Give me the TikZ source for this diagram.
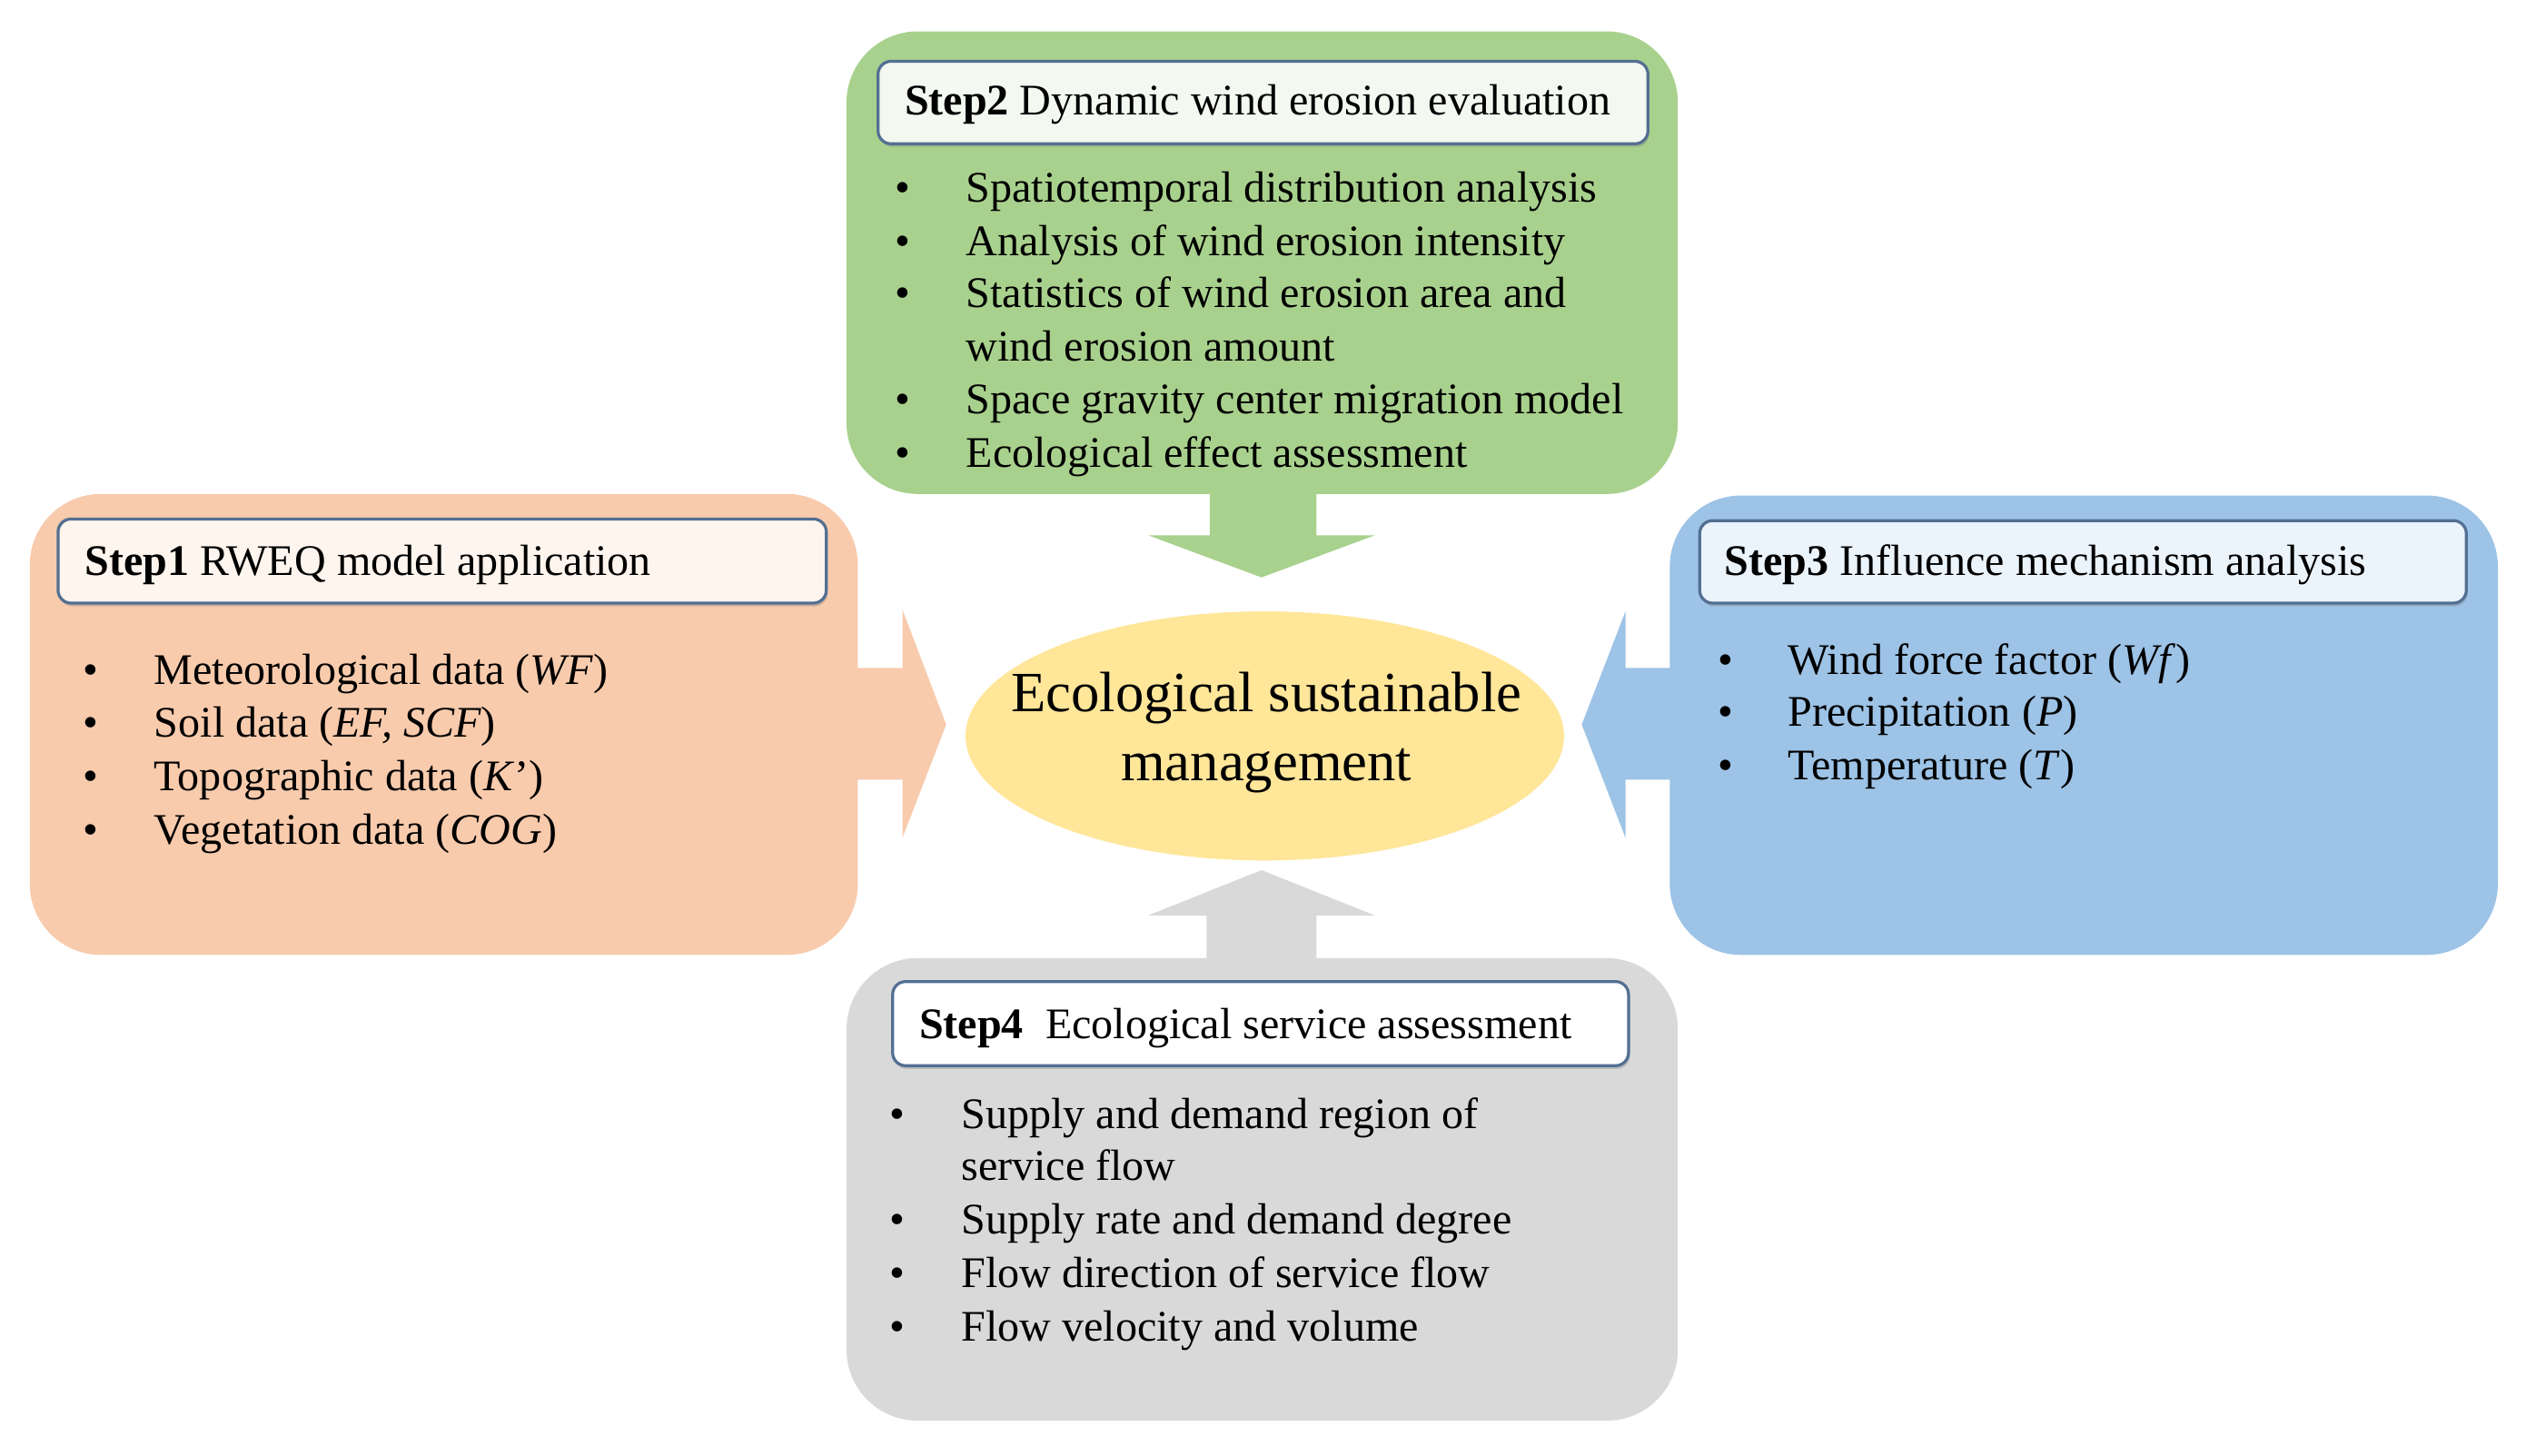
\documentclass[tikz,border=0pt]{standalone}
\usepackage{fontspec}
\setmainfont{Liberation Serif}
\usetikzlibrary{shapes.geometric,shadows}
\definecolor{orangebox}{HTML}{F8CBAD}
\definecolor{greenbox}{HTML}{A9D18E}
\definecolor{bluebox}{HTML}{9DC3E6}
\definecolor{graybox}{HTML}{D9D9D9}
\definecolor{yellowell}{HTML}{FFE699}
\definecolor{titleline}{HTML}{536F92}
\definecolor{orangetitle}{HTML}{FEF5EE}
\definecolor{greentitle}{HTML}{F3F8F0}
\definecolor{bluetitle}{HTML}{EBF3FB}
\definecolor{graytitle}{HTML}{FFFFFF}
\tikzset{
  bigbox/.style={rectangle, rounded corners=22pt, inner sep=0pt, anchor=north west},
  titlebox/.style={rectangle, draw=titleline, line width=0.9pt, rounded corners=4pt, inner sep=0pt, anchor=north west,
    drop shadow={shadow xshift=0.4pt, shadow yshift=-1pt, opacity=0.35}},
  bodytext/.style={anchor=base west, inner sep=0pt, font=\fontsize{13.5}{16.5}\selectfont},
  bullet/.style={anchor=base, inner sep=0pt, font=\fontsize{13.5}{16.5}\selectfont},
  centertext/.style={align=center, inner sep=0pt, font=\fontsize{17.6}{21.5}\selectfont},
}
\begin{document}
\begin{tikzpicture}[x=0.5pt,y=-0.5pt]
\useasboundingbox (0,0) rectangle (1568,900);
\fill[white] (0,0) rectangle (1568,900);

% ---------- big boxes ----------
\node[bigbox, fill=orangebox, minimum width=256pt, minimum height=142.5pt] (s1) at (18,305) {};
\node[bigbox, fill=greenbox, minimum width=257pt, minimum height=143pt] (s2) at (523,19) {};
\node[bigbox, fill=bluebox, minimum width=256pt, minimum height=142pt] (s3) at (1032,306) {};
\node[bigbox, fill=graybox, minimum width=257pt, minimum height=143pt] (s4) at (523,592) {};

% ---------- block arrows ----------
\fill[orangebox] (528,413) -- (558,413) -- (558,377) -- (585,448) -- (558,518) -- (558,482) -- (528,482) -- cycle;
\fill[bluebox] (1034,413) -- (1005,413) -- (1005,378) -- (978,448) -- (1005,518) -- (1005,482) -- (1034,482) -- cycle;
\fill[greenbox] (748,303) -- (748,331) -- (710,331) -- (780,357) -- (850,331) -- (814,331) -- (814,303) -- cycle;
\fill[graybox] (746,594) -- (746,566) -- (710,566) -- (780,538) -- (850,566) -- (814,566) -- (814,594) -- cycle;

% ---------- centre ellipse ----------
\node[ellipse, fill=yellowell, minimum width=185pt, minimum height=77pt, inner sep=0pt] (esm) at (782,455) {};
\node[centertext] (esmtext) at (783,453) {Ecological sustainable\\management};

% ---------- title boxes ----------
\node[titlebox, fill=orangetitle, minimum width=237.5pt, minimum height=26pt] (t1) at (35,320) {};
\node[titlebox, fill=greentitle, minimum width=238pt, minimum height=25.5pt] (t2) at (542,37) {};
\node[titlebox, fill=bluetitle, minimum width=237pt, minimum height=25.5pt] (t3) at (1050,321) {};
\node[titlebox, fill=graytitle, minimum width=227.5pt, minimum height=26pt] (t4) at (551,606) {};

\node[bodytext] (t1txt) at (52,356) {\textbf{Step1} RWEQ model application};
\node[bodytext] (t2txt) at (559,71) {\textbf{Step2} Dynamic wind erosion evaluation};
\node[bodytext] (t3txt) at (1066,356) {\textbf{Step3} Influence mechanism analysis};
\node[bodytext] (t4txt) at (568,642) {\textbf{Step4}\ \ Ecological service assessment};

% ---------- Step1 items ----------
\node[bullet] (b11) at (56,423) {•};
\node[bodytext] (i11) at (95,423) {Meteorological data (\textit{WF})};
\node[bullet] (b12) at (56,456) {•};
\node[bodytext] (i12) at (95,456) {Soil data (\textit{EF, SCF})};
\node[bullet] (b13) at (56,489) {•};
\node[bodytext] (i13) at (95,489) {Topographic data (\textit{K}’)};
\node[bullet] (b14) at (56,522) {•};
\node[bodytext] (i14) at (95,522) {Vegetation data (\textit{COG})};

% ---------- Step2 items ----------
\node[bullet] (b21) at (558,125) {•};
\node[bodytext] (i21) at (597,125) {Spatiotemporal distribution analysis};
\node[bullet] (b22) at (558,158) {•};
\node[bodytext] (i22) at (597,158) {Analysis of wind erosion intensity};
\node[bullet] (b23) at (558,190) {•};
\node[bodytext] (i23) at (597,190) {Statistics of wind erosion area and};
\node[bodytext] (i23b) at (597,223) {wind erosion amount};
\node[bullet] (b24) at (558,256) {•};
\node[bodytext] (i24) at (597,256) {Space gravity center migration model};
\node[bullet] (b25) at (558,289) {•};
\node[bodytext] (i25) at (597,289) {Ecological effect assessment};

% ---------- Step3 items ----------
\node[bullet] (b31) at (1067,417) {•};
\node[bodytext] (i31) at (1105,417) {Wind force factor (\textit{Wf})};
\node[bullet] (b32) at (1067,449) {•};
\node[bodytext] (i32) at (1105,449) {Precipitation (\textit{P})};
\node[bullet] (b33) at (1067,482) {•};
\node[bodytext] (i33) at (1105,482) {Temperature (\textit{T})};

% ---------- Step4 items ----------
\node[bullet] (b41) at (555,698) {•};
\node[bodytext] (i41) at (594,698) {Supply and demand region of};
\node[bodytext] (i41b) at (594,730) {service flow};
\node[bullet] (b42) at (555,763) {•};
\node[bodytext] (i42) at (594,763) {Supply rate and demand degree};
\node[bullet] (b43) at (555,796) {•};
\node[bodytext] (i43) at (594,796) {Flow direction of service flow};
\node[bullet] (b44) at (555,829) {•};
\node[bodytext] (i44) at (594,829) {Flow velocity and volume};
\end{tikzpicture}
\end{document}
